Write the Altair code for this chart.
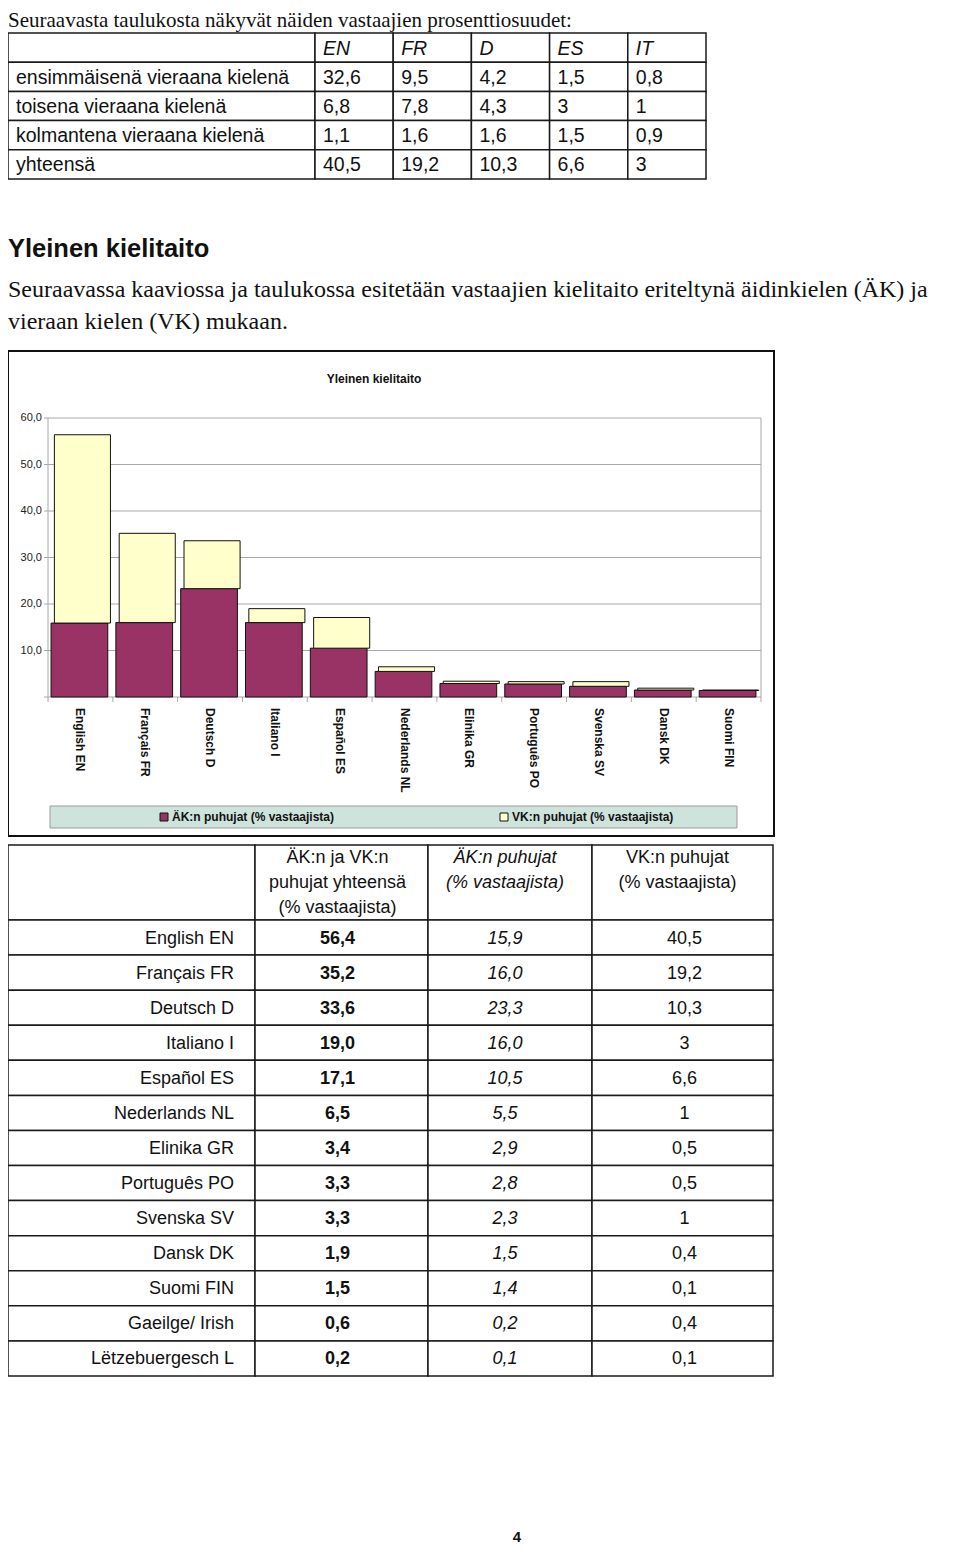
import altair as alt
import pandas as pd

# ---------------- data ----------------
intro_text = "Seuraavasta taulukosta näkyvät näiden vastaajien prosenttiosuudet:"
top_columns = ["EN", "FR", "D", "ES", "IT"]
top_row_labels = ["ensimmäisenä vieraana kielenä", "toisena vieraana kielenä",
                  "kolmantena vieraana kielenä", "yhteensä"]
top_first = ["32,6", "9,5", "4,2", "1,5", "0,8"]
top_second = ["6,8", "7,8", "4,3", "3", "1"]
top_third = ["1,1", "1,6", "1,6", "1,5", "0,9"]
top_total = ["40,5", "19,2", "10,3", "6,6", "3"]

heading_text = "Yleinen kielitaito"
paragraph_lines = [
    "Seuraavassa kaaviossa ja taulukossa esitetään vastaajien kielitaito eriteltynä äidinkielen (ÄK) ja",
    "vieraan kielen (VK) mukaan.",
]

chart_title = "Yleinen kielitaito"
languages = ["English EN", "Français FR", "Deutsch D", "Italiano I", "Español ES",
             "Nederlands NL", "Elinika GR", "Português PO", "Svenska SV", "Dansk DK", "Suomi FIN"]
ak_share = [15.9, 16.0, 23.3, 16.0, 10.5, 5.5, 2.9, 2.8, 2.3, 1.5, 1.4]
vk_share = [40.5, 19.2, 10.3, 3.0, 6.6, 1.0, 0.5, 0.5, 1.0, 0.4, 0.1]
y_ticks = [0, 10, 20, 30, 40, 50, 60]
y_tick_labels = ["", "10,0", "20,0", "30,0", "40,0", "50,0", "60,0"]
series_names = ["ÄK:n puhujat (% vastaajista)", "VK:n puhujat (% vastaajista)"]

table_languages = languages + ["Gaeilge/ Irish", "Lëtzebuergesch L"]
table_headers = ["ÄK:n ja VK:n\npuhujat yhteensä\n(% vastaajista)",
                 "ÄK:n puhujat\n(% vastaajista)",
                 "VK:n puhujat\n(% vastaajista)"]
table_total = ["56,4", "35,2", "33,6", "19,0", "17,1", "6,5", "3,4", "3,3", "3,3", "1,9", "1,5", "0,6", "0,2"]
table_ak = ["15,9", "16,0", "23,3", "16,0", "10,5", "5,5", "2,9", "2,8", "2,3", "1,5", "1,4", "0,2", "0,1"]
table_vk = ["40,5", "19,2", "10,3", "3", "6,6", "1", "0,5", "0,5", "1", "0,4", "0,1", "0,4", "0,1"]
page_number = "4"

# ---------------- style / layout ----------------
W, H = 944, 1536
def X(px):
    return px - 3
def Y(py):
    return py - 8

SERIF = "Liberation Serif, Times New Roman, serif"
SANS = "Liberation Sans, Arial, sans-serif"
NARROW = "Liberation Sans Narrow, Arial Narrow, Liberation Sans, sans-serif"
LINE = "#1a1a1a"
PURPLE = "#993366"
CREAM = "#FFFFCC"
GRID = "#a8a8a8"
LEGEND_FILL = "#cfe3dd"


def static_text(txt, x, y, **kw):
    return alt.Chart(pd.DataFrame({"t": [txt]})).mark_text(**kw).encode(
        text="t:N", x=alt.value(x), y=alt.value(y))


def cell_group(rect_df, texts, xdom, xrng, ydom, yrng, line_w=1.5):
    xs = alt.Scale(type="band", domain=xdom, range=xrng, paddingInner=0, paddingOuter=0)
    ys = alt.Scale(type="band", domain=ydom, range=yrng, paddingInner=0, paddingOuter=0)
    layers = [alt.Chart(rect_df).mark_rect(fill="white", stroke=LINE, strokeWidth=line_w).encode(
        x=alt.X("col:N", scale=xs, axis=None),
        y=alt.Y("row:N", scale=ys, axis=None))]
    for df, kw, xb, yb in texts:
        layers.append(alt.Chart(df).mark_text(**kw).encode(
            x=alt.X("col:N", scale=xs, axis=None, bandPosition=xb),
            y=alt.Y("row:N", scale=ys, axis=None, bandPosition=yb),
            text="text:N"))
    return alt.layer(*layers)


groups = []

# ---- intro line, heading, paragraph ----
groups.append(static_text(intro_text, X(3), Y(27), font=SERIF, fontSize=21, align="left",
                          baseline="alphabetic", color="#111"))
groups.append(static_text(heading_text, X(3), Y(257), font=SANS, fontSize=25.5, fontWeight="bold",
                          align="left", baseline="alphabetic", color="#111"))
groups.append(static_text(paragraph_lines[0], X(3), Y(297), font=SERIF, fontSize=24, align="left",
                          baseline="alphabetic", color="#111"))
groups.append(static_text(paragraph_lines[1], X(3), Y(329), font=SERIF, fontSize=24, align="left",
                          baseline="alphabetic", color="#111"))

# ---- top table ----
top_row_keys = ["hdr"] + top_row_labels
top_y_rng = [Y(33), Y(179)]
top_label_rect = pd.DataFrame({"row": top_row_keys, "col": "label"})
top_label_text = pd.DataFrame({"row": top_row_labels, "col": "label", "text": top_row_labels})
top_kw = dict(font=SANS, fontSize=19.5, align="left", baseline="middle", dx=8, dy=1, color="#111")
groups.append(cell_group(top_label_rect, [(top_label_text, top_kw, 0, 0.5)],
                         ["label"], [X(3), X(310)], top_row_keys, top_y_rng))

cells = []
for r, vals in zip(top_row_labels, [top_first, top_second, top_third, top_total]):
    for c, v in zip(top_columns, vals):
        cells.append({"row": r, "col": c, "text": v})
top_cells = pd.DataFrame(cells)
top_header = pd.DataFrame({"row": "hdr", "col": top_columns, "text": top_columns})
top_rect = pd.concat([top_header, top_cells], ignore_index=True)
groups.append(cell_group(top_rect,
                         [(top_header, dict(top_kw, fontStyle="italic"), 0, 0.5),
                          (top_cells, top_kw, 0, 0.5)],
                         top_columns, [X(310), X(701)], top_row_keys, top_y_rng))

# ---- bar chart section ----
frame = alt.Chart(pd.DataFrame({"k": [0]})).mark_rect(fill="white", stroke="#111", strokeWidth=2).encode(
    x=alt.value(X(3)), x2=alt.value(X(769)), y=alt.value(Y(351)), y2=alt.value(Y(836)))
groups.append(frame)
groups.append(static_text(chart_title, X(369), Y(383), font=SANS, fontSize=12, fontWeight="bold",
                          align="center", baseline="alphabetic", color="#111"))

bars_df = pd.DataFrame({"lang": languages, "ak": ak_share, "vk": vk_share})
grid_df = pd.DataFrame({"v": y_ticks, "label": y_tick_labels})
xs_c = alt.Scale(type="band", domain=languages, range=[X(43), X(756)], paddingInner=0, paddingOuter=0)
ys_c = alt.Scale(type="linear", domain=[0, 60], range=[Y(697), Y(418)], nice=False, zero=True)

grid = alt.Chart(grid_df).mark_rule(color=GRID, strokeWidth=1).encode(
    y=alt.Y("v:Q", scale=ys_c, axis=None), x=alt.value(X(43)), x2=alt.value(X(756)))
yticks = alt.Chart(grid_df).mark_rule(color=GRID, strokeWidth=1).encode(
    y=alt.Y("v:Q", scale=ys_c, axis=None), x=alt.value(X(39)), x2=alt.value(X(43)))
ylabels = alt.Chart(grid_df).mark_text(font=SANS, fontSize=11, align="right", baseline="middle",
                                       color="#222").encode(
    y=alt.Y("v:Q", scale=ys_c, axis=None), x=alt.value(X(37)), text="label:N")
span_df = pd.DataFrame({"lo": [0], "hi": [60]})
left_axis = alt.Chart(span_df).mark_rule(color=GRID, strokeWidth=1).encode(
    y=alt.Y("lo:Q", scale=ys_c, axis=None), y2="hi:Q", x=alt.value(X(43)))
right_edge = alt.Chart(span_df).mark_rule(color=GRID, strokeWidth=1).encode(
    y=alt.Y("lo:Q", scale=ys_c, axis=None), y2="hi:Q", x=alt.value(X(756)))
xticks = alt.Chart(bars_df).mark_rule(color=GRID, strokeWidth=1).encode(
    x=alt.X("lang:N", scale=xs_c, axis=None, bandPosition=0),
    y=alt.value(Y(697)), y2=alt.value(Y(702)))
xtick_end = alt.Chart(bars_df.tail(1)).mark_rule(color=GRID, strokeWidth=1).encode(
    x=alt.X("lang:N", scale=xs_c, axis=None, bandPosition=1),
    y=alt.value(Y(697)), y2=alt.value(Y(702)))
ak_bars = alt.Chart(bars_df).mark_bar(color=PURPLE, stroke="#111", strokeWidth=1,
                                      width=alt.RelativeBandSize(0.875), xOffset=-1).encode(
    x=alt.X("lang:N", scale=xs_c, axis=None),
    y=alt.Y("ak:Q", scale=ys_c, axis=None))
vk_bars = alt.Chart(bars_df).transform_calculate(top="datum.ak + datum.vk").mark_bar(
    color=CREAM, stroke="#111", strokeWidth=1, width=alt.RelativeBandSize(0.865), xOffset=2).encode(
    x=alt.X("lang:N", scale=xs_c, axis=None),
    y=alt.Y("top:Q", scale=ys_c, axis=None), y2="ak:Q")
xlabels = alt.Chart(bars_df).mark_text(font=SANS, fontSize=12, fontWeight="bold", angle=90,
                                       align="left", baseline="middle", color="#111").encode(
    x=alt.X("lang:N", scale=xs_c, axis=None), y=alt.value(Y(708)), text="lang:N")
groups.append(alt.layer(grid, yticks, ylabels, left_axis, right_edge, xticks, xtick_end,
                        ak_bars, vk_bars, xlabels))

# legend
legend_box = alt.Chart(pd.DataFrame({"k": [0]})).mark_rect(fill=LEGEND_FILL, stroke="#9a9a9a",
                                                            strokeWidth=1).encode(
    x=alt.value(X(45)), x2=alt.value(X(732)), y=alt.value(Y(806)), y2=alt.value(Y(828)))
groups.append(legend_box)
leg_df = pd.DataFrame({"name": series_names})
leg_x = alt.Scale(type="point", domain=series_names, range=[X(159), X(499)], padding=0)
leg_sq = alt.Chart(leg_df).mark_point(shape="square", filled=True, size=64, stroke="#111",
                                      strokeWidth=1, opacity=1).encode(
    x=alt.X("name:N", scale=leg_x, axis=None), y=alt.value(Y(817)),
    color=alt.Color("name:N", scale=alt.Scale(domain=series_names, range=[PURPLE, CREAM]), legend=None))
leg_tx = alt.Chart(leg_df).mark_text(font=SANS, fontSize=12, fontWeight="bold", align="left",
                                     baseline="middle", dx=8, color="#111").encode(
    x=alt.X("name:N", scale=leg_x, axis=None), y=alt.value(Y(817)), text="name:N")
groups.append(alt.layer(leg_sq, leg_tx))

# ---- bottom table ----
col_keys = ["label", "tot", "ak", "vk"]
col_edges = [X(3), X(250), X(423), X(587), X(768)]
hdr_rng = [Y(845), Y(920)]
body_rng = [Y(920), Y(1376)]
tkw = dict(font=NARROW, fontSize=18, baseline="middle", color="#111", dy=1)
hkw = dict(font=NARROW, fontSize=18, baseline="top", align="center", color="#111",
           lineBreak="\n", lineHeight=25, dy=4)
body_texts = {
    "label": (table_languages, dict(tkw, align="right", dx=-21), 1),
    "tot": (table_total, dict(tkw, align="center", fontWeight="bold", dx=-4), 0.5),
    "ak": (table_ak, dict(tkw, align="center", fontStyle="italic", dx=-5), 0.5),
    "vk": (table_vk, dict(tkw, align="center", dx=2), 0.5),
}
hdr_texts = {"tot": (table_headers[0], dict(hkw, dx=-4)),
             "ak": (table_headers[1], dict(hkw, fontStyle="italic", dx=-5)),
             "vk": (table_headers[2], dict(hkw, dx=-5))}
for i, c in enumerate(col_keys):
    rng = [col_edges[i], col_edges[i + 1]]
    hdr_rect = pd.DataFrame({"row": ["hdr"], "col": [c]})
    htexts = []
    if c in hdr_texts:
        ht, kw = hdr_texts[c]
        htexts.append((pd.DataFrame({"row": ["hdr"], "col": [c], "text": [ht]}), kw, 0.5, 0))
    groups.append(cell_group(hdr_rect, htexts, [c], rng, ["hdr"], hdr_rng))
    vals, kw, xb = body_texts[c]
    bdf = pd.DataFrame({"row": table_languages, "col": c, "text": vals})
    groups.append(cell_group(bdf[["row", "col"]], [(bdf, kw, xb, 0.5)], [c], rng, table_languages, body_rng))

groups.append(static_text(page_number, X(512), Y(1542), font=SANS, fontSize=15, fontWeight="bold",
                          align="center", baseline="alphabetic", color="#111"))

chart = alt.layer(*groups).resolve_scale(x="independent", y="independent", color="independent").properties(
    width=W, height=H, padding=0, autosize=alt.AutoSizeParams(type="none"), background="white"
).configure_view(stroke=None)

chart.save("out.html", embed_options={"renderer": "svg", "actions": False})
